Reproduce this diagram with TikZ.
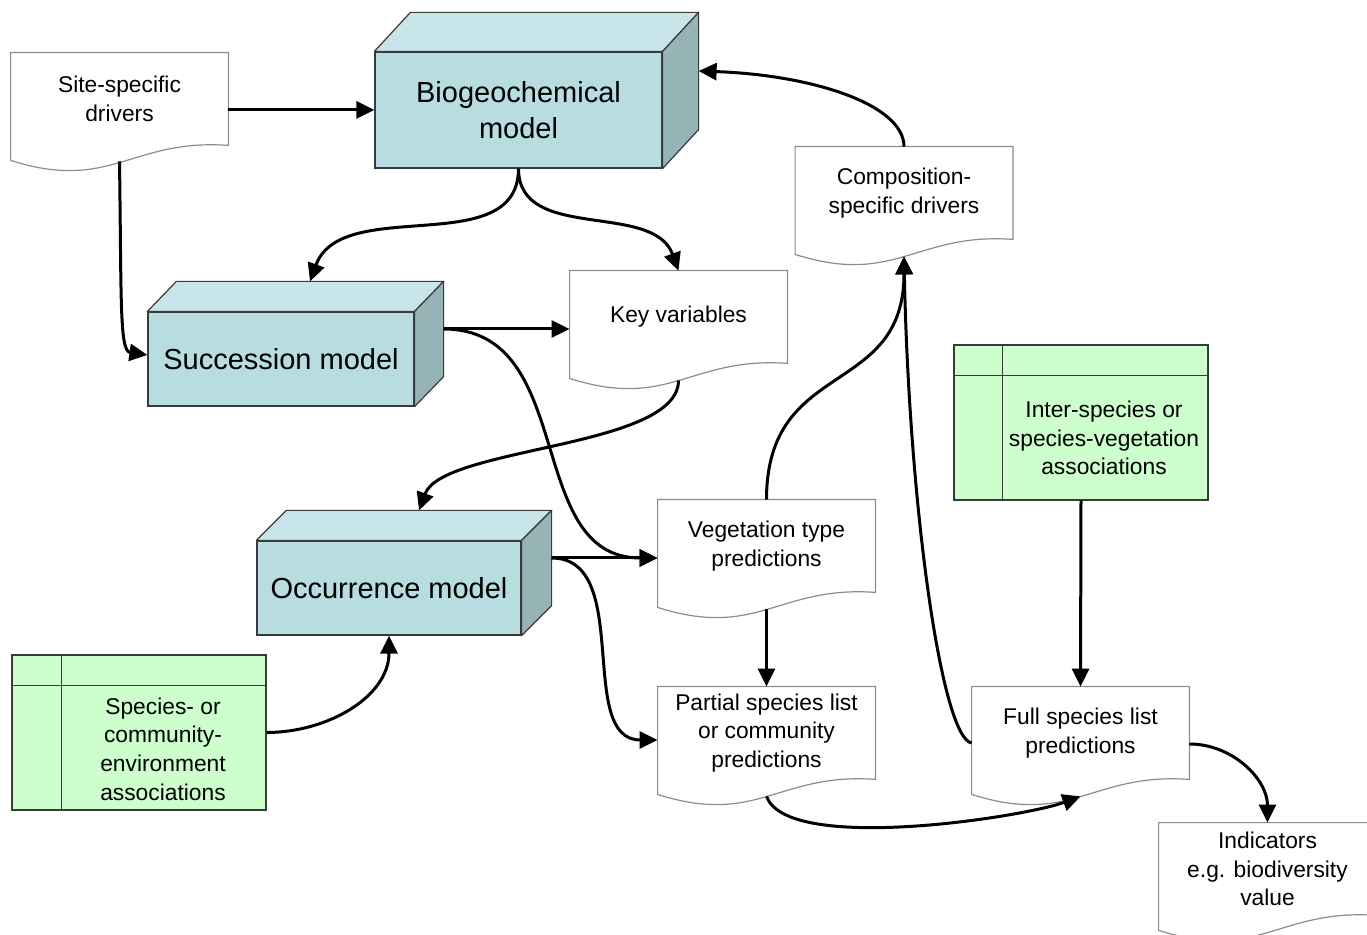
\documentclass[tikz,border=0pt]{standalone}
\usepackage{fontspec}
\setmainfont{Liberation Sans}
\usetikzlibrary{arrows.meta,calc,backgrounds}

\definecolor{boxfront}{HTML}{B7DDE0}
\definecolor{boxtop}{HTML}{C8E6E9}
\definecolor{boxside}{HTML}{96B3B5}
\definecolor{tablegreen}{HTML}{CCFFCC}
\definecolor{docgray}{HTML}{8C8C8C}
\definecolor{edgegray}{HTML}{3A3A3A}

\tikzset{
	smalltext/.style={font=\fontsize{11.4}{14.3}\selectfont, align=center},
	bigtext/.style={font=\fontsize{14.5}{18}\selectfont, align=center},
	docbox/.style={smalltext, minimum width=108.5pt, minimum height=46pt, inner sep=0pt},
	docline/.style={draw=docgray, line width=0.6pt, fill=white},
	modelbox/.style={bigtext, draw=edgegray, line width=0.6pt, fill=boxfront, inner sep=0pt},
	facetop/.style={draw=edgegray, line width=0.6pt, fill=boxtop, line join=round},
	faceside/.style={draw=edgegray, line width=0.6pt, fill=boxside, line join=round},
	tablebox/.style={draw=edgegray, line width=0.6pt, fill=tablegreen, minimum width=127pt, minimum height=77.5pt, inner sep=0pt},
	tableline/.style={draw=edgegray, line width=0.6pt},
	arr/.style={-{Triangle[length=9pt,width=8.5pt]}, line width=1.5pt},
}

%document outline with wavy bottom (#1 = node)
\newcommand{\docwave}[1]{%
	\draw[docline] ([yshift=-7.5pt]#1.south west) -- (#1.north west) -- (#1.north east) -- (#1.south east)
	.. controls +(-97,-7) and +(100,32) .. ([yshift=-7.5pt]#1.south west) -- cycle;}

%top and side faces of a model box (#1 = node, #2 = dx, #3 = dy)
\newcommand{\cuboid}[3]{%
	\draw[facetop] (#1.north west) -- ++(#2,-#3) -- ($(#1.north east)+(#2,-#3)$) -- (#1.north east) -- cycle;
	\draw[faceside] (#1.north east) -- ++(#2,-#3) -- ($(#1.south east)+(#2,-#3)$) -- (#1.south east) -- cycle;
	\coordinate (#1 back) at ($(#1.east)+(#2,-#3)$);
	\coordinate (#1 top) at ($(#1.north)+(#2,-#3)$);}

\begin{document}
\begin{tikzpicture}[x=0.5pt,y=-0.5pt]
	\useasboundingbox (0,0) rectangle (1367,935);
	
	%Model boxes
	\node[modelbox, minimum width=143.5pt, minimum height=58pt] (bio) at (518.5,110) {Biogeochemical\\model};
	\cuboid{bio}{36}{39}
	\node[modelbox, minimum width=133pt, minimum height=47pt] (succ) at (281,359) {Succession model};
	\cuboid{succ}{29}{30}
	\node[modelbox, minimum width=132pt, minimum height=47pt] (occ) at (389,588) {Occurrence model};
	\cuboid{occ}{30}{30}
	
	%Documents
	\node[docbox] (site) at (119.5,99) {Site-specific\\drivers};
	\node[docbox] (key) at (678.5,317) {Key variables};
	\node[docbox] (comp) at (904,193) {Composition-\\specific drivers};
	\node[docbox] (veg) at (766.5,546) {Vegetation type\\predictions};
	\node[docbox] (part) at (766.5,733) {Partial species list\\or community\\predictions};
	\node[docbox] (full) at (1080.5,733) {Full species list\\predictions};
	\node[docbox] (ind) at (1267.5,869) {Indicators\\e.g. biodiversity\\value};
	
	\begin{pgfonlayer}{background}
		\docwave{site}
		\docwave{key}
		\docwave{comp}
		\docwave{veg}
		\docwave{part}
		\docwave{full}
		\docwave{ind}
	\end{pgfonlayer}
	
	%Association tables
	\node[tablebox] (spec) at (139,732.5) {};
	\draw[tableline] ($(spec.north west)+(50,0)$) -- ($(spec.south west)+(50,0)$);
	\draw[tableline] ($(spec.north west)+(0,31)$) -- ($(spec.north east)+(0,31)$);
	\node[smalltext] (spec text) at (163,749) {Species- or\\community-\\environment\\associations};
	
	\node[tablebox] (inter) at (1081,422.5) {};
	\draw[tableline] ($(inter.north west)+(49,0)$) -- ($(inter.south west)+(49,0)$);
	\draw[tableline] ($(inter.north west)+(0,31)$) -- ($(inter.north east)+(0,31)$);
	\node[smalltext] (inter text) at (1104,438) {Inter-species or\\species-vegetation\\associations};
	
	%Connectors
	\draw[arr] (site.east |- bio.west) -- (bio.west);
	\draw[arr] ([yshift=-8pt]site.south) .. controls +(2,140) and +(-28,-4) .. ([yshift=2pt]succ.west);
	\draw[arr] (bio.south) to[out=-90,in=70] (succ top);
	\draw[arr] (bio.south) to[out=-90,in=110] (key.north);
	\draw[arr] (comp.north) .. controls +(0,-42) and +(114,4) .. (bio back);
	\draw[arr] (succ back) -- (succ back -| key.west);
	\draw[arr] (succ back) to[out=0,in=180,looseness=1.1] (veg.west |- occ back);
	\draw[arr] ([yshift=-8.5pt]key.south) to[out=-90,in=70,looseness=0.6] (occ top);
	\draw[arr] (occ back) -- (occ back -| veg.west);
	\draw[arr] (occ back) to[out=0,in=180] ([yshift=-3.5pt]part.west);
	\draw[arr] (spec.east) to[out=0,in=-90] (occ.south);
	\draw[arr] (veg.north) to[out=90,in=-90,looseness=1.3] ([yshift=-8.5pt]comp.south);
	\draw[arr] ([yshift=-8.5pt]veg.south) -- (part.north);
	\draw[arr] ([yshift=-8.5pt]part.south) to[out=-70,in=200,looseness=0.5] ([yshift=-8.5pt]full.south);
	\draw[arr] ([yshift=-5pt]full.west) .. controls +(-30,-5) and +(5,250) .. ([yshift=-8.5pt]comp.south);
	\draw[arr] (inter.south) -- (full.north);
	\draw[arr] ([yshift=-5.5pt]full.east) to[out=0,in=90] (ind.north);
\end{tikzpicture}
\end{document}
